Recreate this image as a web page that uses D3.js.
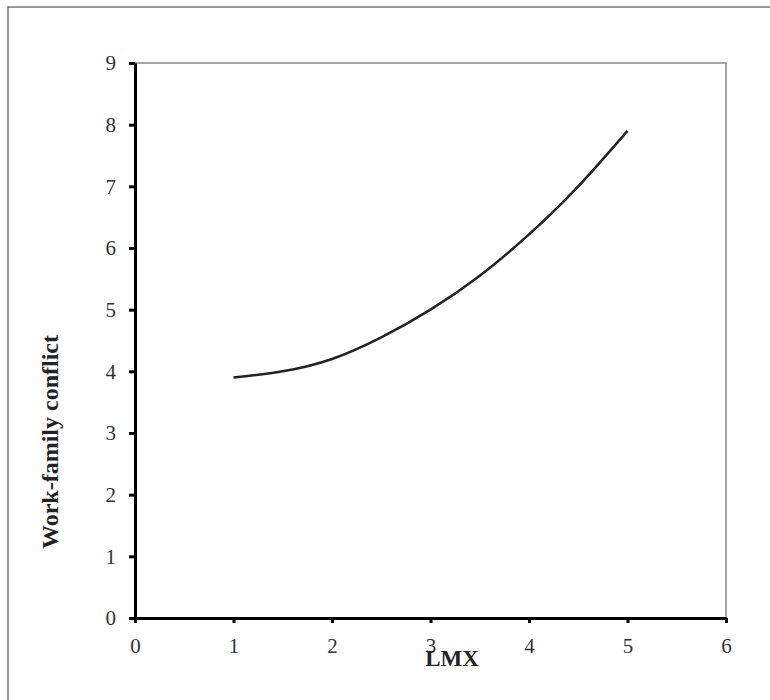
<!DOCTYPE html>
<html>
<head>
<meta charset="UTF-8">
<script src="https://d3js.org/d3.v7.min.js"></script>
<style>
  * { margin: 0; padding: 0; }
  body { background: #fff; }
</style>
</head>
<body>
<div id="grafico"></div>
<script>
// values
var lmx      = [1, 1.5, 2, 2.5, 3, 3.5, 4, 4.5, 5];
var conflict = [3.9, 4.0, 4.2, 4.55, 5.0, 5.55, 6.22, 7.0, 7.9];
var xTicks = [0, 1, 2, 3, 4, 5, 6];
var yTicks = [0, 1, 2, 3, 4, 5, 6, 7, 8, 9];

var w = 770, h = 700;
var mLeft = 135, mRight = 726, mTop = 63, mBottom = 618;

var svg = d3.select("#grafico").append("svg")
    .attr("width", w).attr("height", h);

// outer frame
svg.append("rect")
    .attr("x", 8).attr("y", 7)
    .attr("width", w).attr("height", h)
    .attr("fill", "none").attr("stroke", "#777").attr("stroke-width", 1.5);

var xScale = d3.scaleLinear().domain([0, 6]).range([mLeft, mRight]);
var yScale = d3.scaleLinear().domain([0, 9]).range([mBottom, mTop]);

// top and right borders (thin grey)
svg.append("path")
    .attr("d", "M" + mLeft + "," + mTop + "H" + mRight + "V" + mBottom)
    .attr("fill", "none").attr("stroke", "#888").attr("stroke-width", 1.5);

var xAxis = svg.append("g")
    .attr("transform", "translate(0," + mBottom + ")")
    .call(d3.axisBottom(xScale).tickValues(xTicks).tickFormat(d3.format("d"))
        .tickSize(5).tickPadding(15).tickSizeOuter(0));

var yAxis = svg.append("g")
    .attr("transform", "translate(" + mLeft + ",0)")
    .call(d3.axisLeft(yScale).tickValues(yTicks).tickFormat(d3.format("d"))
        .tickSize(6).tickPadding(13).tickSizeOuter(0));

[xAxis, yAxis].forEach(function(a) {
    a.select(".domain").attr("stroke", "#000").attr("stroke-width", 3);
    a.selectAll(".tick line").attr("stroke", "#000").attr("stroke-width", 3);
    a.selectAll(".tick text")
        .attr("font-family", "Liberation Serif, serif")
        .attr("font-size", "21px")
        .attr("fill", "#333");
});

// curve
var line = d3.line()
    .x(function(d, i) { return xScale(lmx[i]); })
    .y(function(d) { return yScale(d); })
    .curve(d3.curveNatural);

svg.append("path")
    .datum(conflict)
    .attr("d", line)
    .attr("fill", "none")
    .attr("stroke", "#222")
    .attr("stroke-width", 2.5);

// axis titles
svg.append("text")
    .attr("x", 452).attr("y", 666)
    .attr("text-anchor", "middle")
    .attr("font-family", "Liberation Serif, serif")
    .attr("font-weight", "bold")
    .attr("font-size", "23px")
    .attr("fill", "#222")
    .text("LMX");

svg.append("text")
    .attr("transform", "translate(58,442) rotate(-90)")
    .attr("text-anchor", "middle")
    .attr("font-family", "Liberation Serif, serif")
    .attr("font-weight", "bold")
    .attr("font-size", "24px")
    .attr("fill", "#222")
    .text("Work-family conflict");
</script>
</body>
</html>
